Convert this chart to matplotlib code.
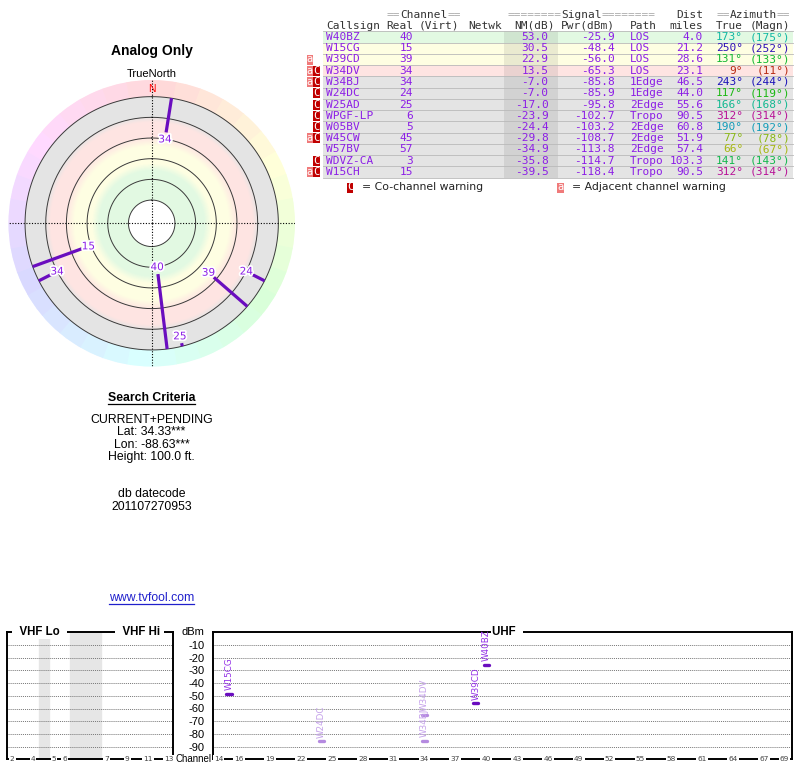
import colorsys
import matplotlib.pyplot as plt
import matplotlib.patheffects as pe
from matplotlib.patches import Rectangle
import numpy as np

plt.rcParams['axes.unicode_minus'] = False

# Station table (as listed in the report)
callsigns = ['W40BZ', 'W15CG', 'W39CD', 'W34DV', 'W34BJ', 'W24DC', 'W25AD',
             'WPGF-LP', 'W05BV', 'W45CW', 'W57BV', 'WDVZ-CA', 'W15CH']
real_ch = [40, 15, 39, 34, 34, 24, 25, 6, 5, 45, 57, 3, 15]
nm_db = [53.0, 30.5, 22.9, 13.5, -7.0, -7.0, -17.0, -23.9, -24.4, -29.8, -34.9, -35.8, -39.5]
pwr_dbm = [-25.9, -48.4, -56.0, -65.3, -85.8, -85.9, -95.8, -102.7, -103.2, -108.7,
           -113.8, -114.7, -118.4]
path = ['LOS', 'LOS', 'LOS', 'LOS', '1Edge', '1Edge', '2Edge', 'Tropo', '2Edge', '2Edge',
        '2Edge', 'Tropo', 'Tropo']
dist_mi = [4.0, 21.2, 28.6, 23.1, 46.5, 44.0, 55.6, 90.5, 60.8, 51.9, 57.4, 103.3, 90.5]
az_true = [173, 250, 131, 9, 243, 117, 166, 312, 190, 77, 66, 141, 312]
az_magn = [175, 252, 133, 11, 244, 119, 168, 314, 192, 78, 67, 143, 314]
adj_warn = [False, False, True, True, True, False, False, False, False, True, False, False, True]
co_warn = [False, False, False, True, True, True, True, True, True, True, False, True, True]

# search criteria text
criteria = ['CURRENT+PENDING', 'Lat: 34.33***', 'Lon: -88.63***', 'Height: 100.0 ft.']
datecode = '201107270953'

# spectrum axes
grid_dbm = [-90, -80, -70, -60, -50, -40, -30, -20, -10]
vhf_ticks = [2, 4, 5, 6, 7, 9, 11, 13]
uhf_ticks = [14, 16, 19, 22, 25, 28, 31, 34, 37, 40, 43, 46, 49, 52, 55, 58, 61, 64, 67, 69]
min_plot_dbm = -90

W, H = 800, 768
SANS = 'Liberation Sans'
MONO = 'DejaVu Sans Mono'
MONO_CW = 0.602 * 8 * 100 / 72   # advance of one mono char at 8 pt, in px
TXT_PURPLE = '#8c1ee6'
LINE_PURPLE = '#6a0dbf'

GREEN = np.array([226, 249, 226]) / 255
YELLOW = np.array([254, 254, 226]) / 255
PINK = np.array([254, 228, 226]) / 255
GRAY = np.array([228, 228, 228]) / 255


def px_rect(x0, y0, x1, y1):
    return [x0 / W, 1 - y1 / H, (x1 - x0) / W, (y1 - y0) / H]


def zone_color(nm):
    if nm >= 48:
        return GREEN
    if nm >= 22.5:
        return YELLOW
    if nm >= 1.5:
        return PINK
    return GRAY


def az_color(az):
    return colorsys.hsv_to_rgb((az % 360) / 360, 0.9, 0.72)


fig = plt.figure(figsize=(W / 100, H / 100), dpi=100)

# full-figure axes in pixel units for the table and the text blocks
bg = fig.add_axes([0, 0, 1, 1])
bg.set_xlim(0, W)
bg.set_ylim(H, 0)
bg.axis('off')

# ---------------- polar (radar) plot ----------------
R_ZERO = 102.5          # radius where NM = 0 dB
R_EDGE = R_ZERO + 20    # outer black circle (NM = -20)
R_OUT = 138.6           # outer edge of the compass ring
pol = fig.add_axes(px_rect(8.4, 80.0, 295.0, 366.6), projection='polar')
pol.set_theta_zero_location('N')
pol.set_theta_direction(-1)
pol.axis('off')

# compass hue ring
for a in range(0, 360, 10):
    c = colorsys.hsv_to_rgb(a / 360, 0.15, 1.0)
    pol.bar(np.deg2rad(a + 5), R_OUT, width=np.deg2rad(10), bottom=0, color=c,
            edgecolor=c, linewidth=0.5)

# signal zones with soft transitions
stop_r = [R_ZERO - 80, 51, 58, 75, 84, 98, 104, R_EDGE]
stop_c = np.array([GREEN, GREEN, YELLOW, YELLOW, PINK, PINK, GRAY, GRAY])
for r in np.arange(R_EDGE, R_ZERO - 80, -0.5):
    c = [np.interp(r, stop_r, stop_c[:, k]) for k in range(3)]
    pol.bar(0, r, width=2 * np.pi, bottom=0, color=c, edgecolor='none', linewidth=0)
pol.bar(0, R_ZERO - 80, width=2 * np.pi, bottom=0, color='white', edgecolor='none')

theta = np.linspace(0, 2 * np.pi, 361)
for nm in [80, 60, 40, 20, 0, -20]:
    pol.plot(theta, np.full_like(theta, R_ZERO - nm), color='#3a3a3a', lw=0.7)
for t in [0, 0.5, 1.0, 1.5]:
    pol.plot([t * np.pi, t * np.pi], [0, R_OUT], color='black', lw=0.8, ls=(0, (1, 1.5)))

for ch, nm, az in zip(real_ch, nm_db, az_true):
    r_in = R_ZERO - nm
    if r_in >= R_EDGE:
        continue
    th = np.deg2rad(az)
    pol.plot([th, th], [r_in, R_EDGE], color=LINE_PURPLE, lw=2.3, solid_capstyle='butt', zorder=4)
    pol.text(th, r_in - 6.8, str(ch), ha='center', va='center', fontsize=7.5, color=TXT_PURPLE,
             zorder=5, path_effects=[pe.withStroke(linewidth=2.5, foreground='white')])
pol.text(0, 129.6, 'N', ha='center', va='center', fontsize=7.5, color='red', family=SANS)
pol.set_ylim(0, R_OUT)

bg.text(151.7, 51, 'Analog Only', ha='center', va='center', fontsize=10, weight='bold', family=SANS)
bg.text(151.7, 74, 'TrueNorth', ha='center', va='center', fontsize=8, family=SANS)

# ---------------- search criteria ----------------
t_sc = bg.text(151.5, 398, 'Search Criteria', ha='center', va='center', fontsize=8.8,
               weight='bold', family=SANS)
for i, line in enumerate(criteria):
    bg.text(151.5, 420 + 12.3 * i, line, ha='center', va='center', fontsize=8.8, family=SANS)
bg.text(151.5, 494.3, 'db datecode', ha='center', va='center', fontsize=8.8, family=SANS)
bg.text(151.5, 506.6, datecode, ha='center', va='center', fontsize=8.8, family=SANS)
t_url = bg.text(151.5, 598, 'www.tvfool.com', ha='center', va='center', fontsize=8.8,
                family=SANS, color='#2020cc')

# ---------------- station table ----------------
row_y0, row_h = 37.0, 11.25
tx0, tx1 = 323, 793
nm_x0, nm_x1 = 504, 558
hdr1_y, hdr2_y = 15, 26
hdr_kw = dict(va='center', fontsize=8, family=MONO)
for word, n_eq, xc in [('Channel', 2, 423.7), ('Signal', 8, 581.7), ('Azimuth', 2, 753.3)]:
    half = len(word) * MONO_CW / 2
    bg.text(xc, hdr1_y, word, ha='center', color='#333333', **hdr_kw)
    bg.text(xc - half, hdr1_y, '=' * n_eq, ha='right', color='#aaaaaa', **hdr_kw)
    bg.text(xc + half, hdr1_y, '=' * n_eq, ha='left', color='#aaaaaa', **hdr_kw)
bg.text(703, hdr1_y, 'Dist', ha='right', color='#333333', **hdr_kw)
hdr2 = [('Callsign', 326.5, 'left'), ('Real', 413, 'right'), ('(Virt)', 419, 'left'),
        ('Netwk', 468, 'left'), ('NM(dB)', 555, 'right'), ('Pwr(dBm)', 615, 'right'),
        ('Path', 630, 'left'), ('miles', 703, 'right'), ('True', 743, 'right'),
        ('(Magn)', 790, 'right')]
for label, x, ha in hdr2:
    bg.text(x, hdr2_y, label, ha=ha, color='#333333', **hdr_kw)

bg.plot([tx0, tx1], [row_y0 - row_h / 2] * 2, color='#b9b9b9', lw=0.6)
for i, name in enumerate(callsigns):
    y = row_y0 + i * row_h
    zc = zone_color(nm_db[i])
    bg.add_patch(Rectangle((tx0, y - row_h / 2), tx1 - tx0, row_h, fc=zc, ec='none'))
    bg.add_patch(Rectangle((nm_x0, y - row_h / 2), nm_x1 - nm_x0, row_h, fc=zc * 0.92, ec='none'))
    bg.plot([tx0, tx1], [y + row_h / 2] * 2, color='#b9b9b9', lw=0.6)
    kw = dict(va='center', fontsize=8, family=MONO, color=TXT_PURPLE)
    bg.text(326.5, y, name, ha='left', **kw)
    bg.text(413, y, str(real_ch[i]), ha='right', **kw)
    bg.text(548.5, y, f'{nm_db[i]:.1f}', ha='right', **kw)
    bg.text(615, y, f'{pwr_dbm[i]:.1f}', ha='right', **kw)
    bg.text(630, y, path[i], ha='left', **kw)
    bg.text(703, y, f'{dist_mi[i]:.1f}', ha='right', **kw)
    kw['color'] = az_color(az_true[i])
    bg.text(743, y, f'{az_true[i]}°', ha='right', **kw)
    bg.text(790, y, f'({az_magn[i]}°)', ha='right', **kw)
    if adj_warn[i]:
        bg.add_patch(Rectangle((306.5, y - 5), 6.6, 10, fc='#f07a7a', ec='none'))
        bg.text(309.8, y, 'a', ha='center', va='center', fontsize=7.5, color='white', family=MONO)
    if co_warn[i]:
        bg.add_patch(Rectangle((313.4, y - 5), 6.6, 10, fc='#c00000', ec='none'))
        bg.text(316.7, y, 'C', ha='center', va='center', fontsize=7.5, color='white', family=MONO)

# legend for the warning markers
leg_y = 187.5
bg.add_patch(Rectangle((346.7, leg_y - 5), 6.4, 10, fc='#c00000', ec='none'))
bg.text(349.9, leg_y, 'C', ha='center', va='center', fontsize=7.5, color='white', family=MONO)
bg.text(362, leg_y, '= Co-channel warning', ha='left', va='center', fontsize=7.8, color='#222222')
bg.add_patch(Rectangle((557.3, leg_y - 5), 6.4, 10, fc='#f07a7a', ec='none'))
bg.text(560.5, leg_y, 'a', ha='center', va='center', fontsize=7.5, color='white', family=MONO)
bg.text(572, leg_y, '= Adjacent channel warning', ha='left', va='center', fontsize=7.8, color='#222222')

# ---------------- spectrum ----------------
def vhf_x(ch):
    if ch <= 4:
        return ch - 2
    if ch <= 6:
        return ch - 1
    return ch + 2


vhf = fig.add_axes(px_rect(7, 632.3, 172.7, 759.3))
uhf = fig.add_axes(px_rect(213.5, 632.3, 791.7, 759.3))
vhf.set_xlim(-0.48, 15.33)
uhf.set_xlim(13.5, 69.7)
for ax in (vhf, uhf):
    ax.set_ylim(-100, 0)
    ax.set_yticks(grid_dbm)
    ax.set_xticks([])
    ax.grid(axis='y', color='#777777', lw=0.7, ls=(0, (1, 1)))
    ax.tick_params(length=0)
    for s in ax.spines.values():
        s.set_linewidth(1.4)
vhf.set_yticklabels([])
uhf.tick_params(axis='y', labelsize=8, pad=6.5)
for lab in uhf.get_yticklabels():
    lab.set_family(SANS)

vhf.axvspan(2.55, 3.5, color='#e6e6e6', zorder=0)
vhf.axvspan(5.5, 8.48, color='#e6e6e6', zorder=0)

tick_kw = dict(ha='center', va='center', fontsize=5.3, color='#444444', clip_on=False,
               bbox=dict(fc='white', ec='none', pad=0.8))
for ch in vhf_ticks:
    vhf.text(vhf_x(ch), -100, str(ch), **tick_kw)
for ch in uhf_ticks:
    uhf.text(ch, -100, str(ch), **tick_kw)

title_kw = dict(va='center', fontsize=8.3, weight='bold', family=SANS,
                bbox=dict(fc='white', ec='none', pad=0.5))
vhf.text(0.196, 1.0, '  VHF Lo  ', ha='center', transform=vhf.transAxes, **title_kw)
vhf.text(0.800, 1.0, '  VHF Hi ', ha='center', transform=vhf.transAxes, **title_kw)
uhf.text(0.4815, 1.0, 'UHF  ', ha='left', transform=uhf.transAxes, **title_kw)

bg.text(204.5, 632, 'dBm', ha='right', va='center', fontsize=8, family=SANS)
bg.text(194, 759, 'Channel', ha='center', va='center', fontsize=7, family=SANS)

for name, ch, p, nm in zip(callsigns, real_ch, pwr_dbm, nm_db):
    if p < min_plot_dbm:
        continue
    strong = nm >= 22.5
    ax = uhf if ch >= 14 else vhf
    x = ch if ch >= 14 else vhf_x(ch)
    ax.plot([x - 0.25, x + 0.25], [p, p], lw=2.4, solid_capstyle='round',
            color=LINE_PURPLE if strong else '#b58ae0', zorder=4)
    ax.text(x, p + 3, name, rotation=90, ha='center', va='bottom', fontsize=6.3,
            color='#9330e6' if strong else '#c4a0ea', clip_on=False, zorder=5)

# underlines for the heading and the link
fig.canvas.draw()
inv = bg.transData.inverted()
for t, col in [(t_sc, 'black'), (t_url, '#2020cc')]:
    bb = t.get_window_extent()
    (x0, y0), (x1, y1) = inv.transform([(bb.x0, bb.y0), (bb.x1, bb.y1)])
    bg.plot([x0, x1], [y0 - 0.5, y0 - 0.5], color=col, lw=0.9)

fig.savefig('out.png', dpi=100)
